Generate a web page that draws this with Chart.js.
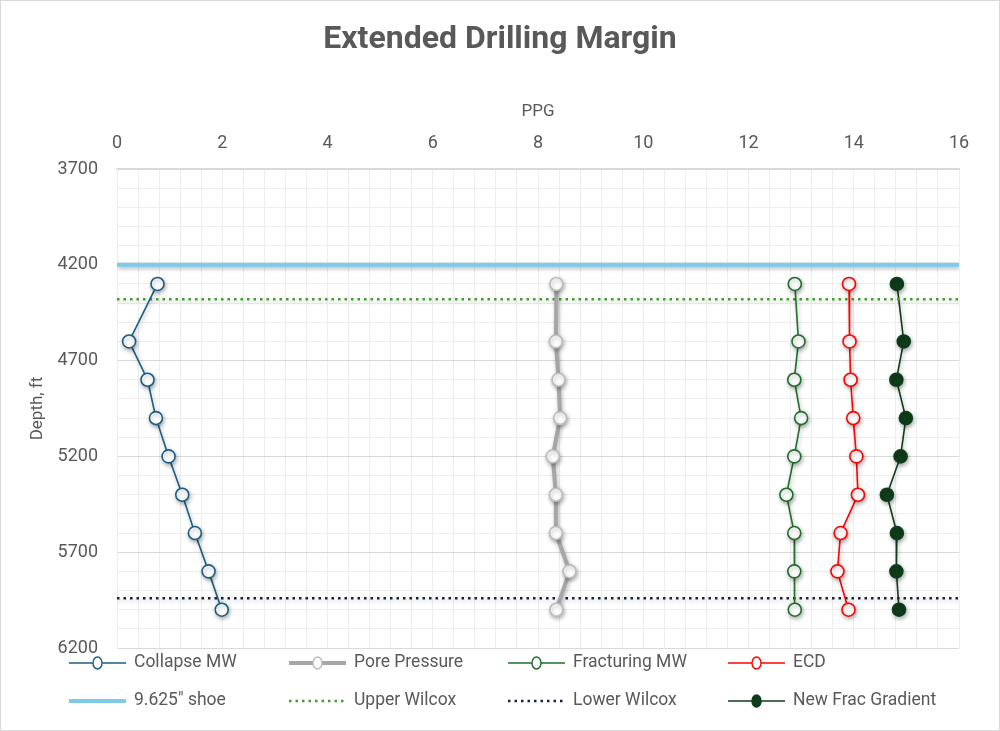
<!DOCTYPE html>
<html>
<head>
<meta charset="utf-8">
<script src="https://cdn.jsdelivr.net/npm/chart.js@4.4.1/dist/chart.umd.min.js"></script>
<style>
  html, body { margin: 0; padding: 0; background: #ffffff; }
  #wrap { width: 1000px; height: 731px; position: relative; }
</style>
</head>
<body>
<div id="wrap"><canvas id="c"></canvas></div>
<script>
// ---- Data ----
const depths          = [4300, 4600, 4800, 5000, 5200, 5400, 5600, 5800, 6000];
const collapseMW      = [0.77, 0.23, 0.58, 0.74, 0.98, 1.24, 1.48, 1.74, 1.99];
const porePressure    = [8.35, 8.34, 8.39, 8.42, 8.28, 8.34, 8.34, 8.60, 8.35];
const fracturingMW    = [12.88, 12.95, 12.87, 13.00, 12.87, 12.72, 12.87, 12.87, 12.88];
const ecd             = [13.91, 13.92, 13.94, 13.99, 14.05, 14.08, 13.75, 13.69, 13.90];
const newFracGradient = [14.82, 14.95, 14.81, 14.99, 14.89, 14.63, 14.82, 14.81, 14.86];
const shoeDepth        = 4200;
const upperWilcoxDepth = 4380;
const lowerWilcoxDepth = 5940;
const ppgRange   = [0, 16];
const depthRange = [3700, 6200];

const pts = (xs) => xs.map((x, i) => ({ x: x, y: depths[i] }));
const hline = (d) => [{ x: ppgRange[0], y: d }, { x: ppgRange[1], y: d }];

const TXT = '#595959';
const FONT = "Roboto, 'Noto Sans', sans-serif";

const datasets = [
  { label: 'Collapse MW', data: pts(collapseMW), borderColor: '#1b5e85', borderWidth: 1.6,
    pointRadius: 6.5, pointBackgroundColor: '#ffffff', pointBorderColor: '#1b5e85', pointBorderWidth: 1.6 },
  { label: 'Pore Pressure', data: pts(porePressure), borderColor: '#a6a6a6', borderWidth: 4,
    pointRadius: 6.5, pointBackgroundColor: '#ffffff', pointBorderColor: '#bdbdbd', pointBorderWidth: 1.6 },
  { label: 'Fracturing MW', data: pts(fracturingMW), borderColor: '#1f6f2b', borderWidth: 1.6,
    pointRadius: 6.5, pointBackgroundColor: '#ffffff', pointBorderColor: '#1f6f2b', pointBorderWidth: 1.6 },
  { label: 'ECD', data: pts(ecd), borderColor: '#ff0000', borderWidth: 1.6,
    pointRadius: 6.5, pointBackgroundColor: '#ffffff', pointBorderColor: '#ff0000', pointBorderWidth: 1.6 },
  { label: '9.625" shoe', data: hline(shoeDepth), borderColor: '#7ccbea', borderWidth: 4, pointRadius: 0 },
  { label: 'Upper Wilcox', data: hline(upperWilcoxDepth), borderColor: '#3f9f2a', borderWidth: 2.5,
    borderDash: [2.5, 4], pointRadius: 0 },
  { label: 'Lower Wilcox', data: hline(lowerWilcoxDepth), borderColor: '#14243d', borderWidth: 2.5,
    borderDash: [2.5, 4], pointRadius: 0 },
  { label: 'New Frac Gradient', data: pts(newFracGradient), borderColor: '#0f3d1a', borderWidth: 1.6,
    pointRadius: 6.5, pointBackgroundColor: '#0f3d1a', pointBorderColor: '#0f3d1a', pointBorderWidth: 1.6 }
].map(d => Object.assign({ showLine: true, fill: false, tension: 0, pointHoverRadius: d.pointRadius }, d));

const bgPlugin = {
  id: 'bg',
  beforeDraw(chart) {
    const ctx = chart.ctx;
    ctx.save();
    ctx.fillStyle = '#ffffff';
    ctx.fillRect(0, 0, chart.width, chart.height);
    ctx.strokeStyle = '#d9d9d9';
    ctx.lineWidth = 1;
    ctx.strokeRect(0.5, 0.5, chart.width - 1, chart.height - 1);
    ctx.restore();
  }
};

const shadowPlugin = {
  id: 'shadow',
  beforeDatasetDraw(chart) {
    const ctx = chart.ctx;
    ctx.save();
    ctx.shadowColor = 'rgba(0,0,0,0.30)';
    ctx.shadowBlur = 4;
    ctx.shadowOffsetX = 1;
    ctx.shadowOffsetY = 2;
  },
  afterDatasetDraw(chart) { chart.ctx.restore(); }
};

const legendPlugin = {
  id: 'gridLegend',
  afterDraw(chart) {
    const ctx = chart.ctx;
    const colX = [69, 289, 508, 728];
    const rowY = [663, 701];
    const sampleW = 57;
    ctx.save();
    chart.data.datasets.forEach((ds, i) => {
      const x0 = colX[i % 4];
      const y = rowY[Math.floor(i / 4)];
      ctx.save();
      ctx.strokeStyle = ds.borderColor;
      ctx.lineWidth = ds.borderWidth;
      ctx.setLineDash(ds.borderDash || []);
      ctx.beginPath();
      ctx.moveTo(x0, y);
      ctx.lineTo(x0 + sampleW, y);
      ctx.stroke();
      ctx.setLineDash([]);
      if (ds.pointRadius > 0) {
        ctx.beginPath();
        ctx.ellipse(x0 + sampleW / 2, y, 4.5, 6, 0, 0, Math.PI * 2);
        ctx.fillStyle = ds.pointBackgroundColor;
        ctx.fill();
        ctx.lineWidth = 1.4;
        ctx.strokeStyle = ds.pointBorderColor;
        ctx.stroke();
      }
      ctx.restore();
      ctx.fillStyle = TXT;
      ctx.font = "17.5px 'Liberation Sans Narrow', Roboto, sans-serif";
      ctx.textBaseline = 'middle';
      ctx.textAlign = 'left';
      ctx.fillText(ds.label, x0 + sampleW + 8, y);
    });
    ctx.restore();
  }
};

const isMult = (v, m, base) => Math.abs((v - base) / m - Math.round((v - base) / m)) < 1e-6;
const TITLE_BOX = 21 + 32 * 1.2 + 8;

new Chart(document.getElementById('c'), {
  type: 'scatter',
  data: { datasets: datasets },
  plugins: [bgPlugin, shadowPlugin, legendPlugin],
  options: {
    responsive: true,
    maintainAspectRatio: false,
    animation: false,
    devicePixelRatio: 1,
    layout: { padding: { top: 0, left: 0, right: 0, bottom: 83 } },
    plugins: {
      legend: { display: false },
      tooltip: { enabled: false },
      title: {
        display: true,
        text: 'Extended Drilling Margin',
        color: TXT,
        font: { family: FONT, size: 32, weight: 'bold', lineHeight: 1.2 },
        padding: { top: 21, bottom: 8 }
      }
    },
    scales: {
      x: {
        type: 'linear',
        position: 'top',
        min: ppgRange[0], max: ppgRange[1],
        afterFit(scale) { scale.height = 169 - TITLE_BOX; },
        ticks: {
          stepSize: 0.4,
          autoSkip: false,
          maxRotation: 0,
          padding: 15,
          color: TXT,
          font: { family: FONT, size: 18 },
          callback: (v) => isMult(v, 2, 0) ? String(Math.round(v)) : ''
        },
        grid: { color: '#eeeeee', lineWidth: 1, drawTicks: false },
        border: { display: true, color: '#d9d9d9', width: 2 },
        title: {
          display: true, text: 'PPG', color: TXT,
          font: { family: FONT, size: 17, lineHeight: 1.2 },
          padding: { top: 112 - TITLE_BOX - 10.2, bottom: 0 }
        }
      },
      y: {
        type: 'linear',
        position: 'left',
        reverse: true,
        min: depthRange[0], max: depthRange[1],
        afterFit(scale) { scale.width = 117; },
        ticks: {
          stepSize: 100,
          autoSkip: false,
          padding: 19,
          color: TXT,
          font: { family: FONT, size: 18 },
          callback: (v) => isMult(v, 500, depthRange[0]) ? String(Math.round(v)) : ''
        },
        grid: {
          drawTicks: false,
          lineWidth: 1,
          color: (c) => (c.tick && isMult(c.tick.value, 500, depthRange[0])) ? '#d9d9d9' : '#eeeeee'
        },
        border: { display: true, color: '#eeeeee', width: 1 },
        title: {
          display: true, text: 'Depth, ft', color: TXT,
          font: { family: FONT, size: 17, lineHeight: 1.2 },
          padding: { top: 28, bottom: 0 }
        }
      },
      yRightSpace: {
        type: 'linear',
        position: 'right',
        reverse: true,
        min: depthRange[0], max: depthRange[1],
        afterFit(scale) { scale.width = 41; },
        ticks: { display: false },
        grid: { display: false, drawOnChartArea: false, drawTicks: false },
        border: { display: false }
      }
    }
  }
});
</script>
</body>
</html>
